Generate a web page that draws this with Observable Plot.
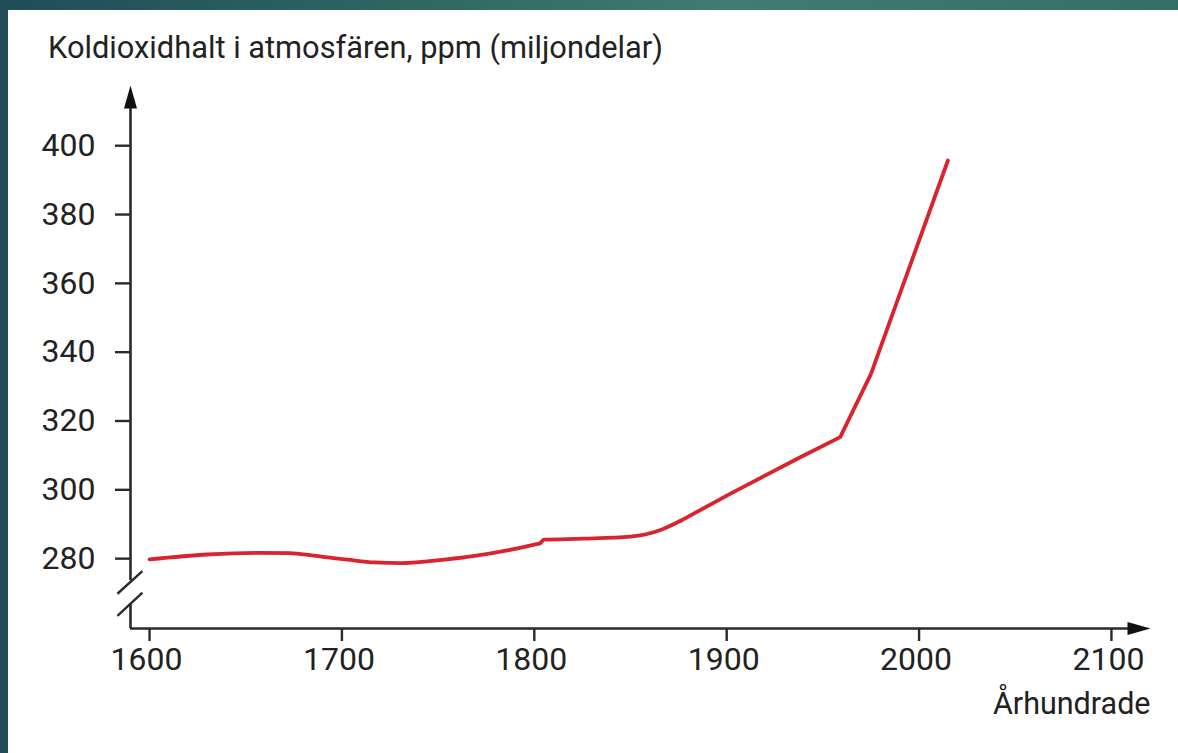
<!DOCTYPE html>
<html><head><meta charset="utf-8">
<script src="https://cdn.jsdelivr.net/npm/d3@7"></script>
<script src="https://cdn.jsdelivr.net/npm/@observablehq/plot@0.6"></script>
<style>
html,body{margin:0;padding:0;width:1178px;height:753px;overflow:hidden;}
body{position:relative;font-family:Roboto,sans-serif;background:linear-gradient(90deg,#1f4d58 0%,#2c6360 30%,#3e7d71 62%,#346f67 100%);}
#panel{position:absolute;left:8px;top:10px;right:0;bottom:0;background:#fff;}
#title{position:absolute;left:48px;top:33px;font-size:30.8px;line-height:30px;color:#222;white-space:nowrap;}
#chart{position:absolute;left:0;top:70px;}
</style></head>
<body>
<div id="panel"></div>
<div id="title">Koldioxidhalt i atmosfären, ppm (miljondelar)</div>
<div id="chart"></div>
<script>
const years = [1600,1630,1656,1673,1685,1703,1717,1731,1748,1768,1786,1800,1803,1805,1825,1850,1866,1876,1902,1938,1959,1975,2015];
const ppm = [279.8,281.2,281.7,281.6,280.9,279.7,278.9,278.7,279.4,280.7,282.4,284.1,284.5,285.5,285.8,286.4,288.4,291.0,298.9,309.4,315.3,333.7,395.7];
const xTicks = [1600,1700,1800,1900,2000,2100];
const yTicks = [280,300,320,340,360,380,400];
const xLabel = "Århundrade";

const xMin = 1590.1, xMax = 2120.3, yMin = 259.7, yMax = 417.5;
const data = years.map((y, i) => ({year: y, ppm: ppm[i]}));
const smoothPart = data.filter(d => d.year <= 1876);
const straightPart = data.filter(d => d.year >= 1876);

const arrowUp = {
  draw(ctx) {
    ctx.moveTo(0, 0);
    ctx.lineTo(-6.5, 23);
    ctx.lineTo(6.5, 23);
    ctx.closePath();
  }
};
const axisColor = "#2a2a2a";
const red = "#d9232e";

const chart = Plot.plot({
  width: 1178, height: 660,
  marginLeft: 130, marginRight: 28, marginTop: 15, marginBottom: 102,
  x: {domain: [xMin, xMax]},
  y: {domain: [yMin, yMax]},
  style: {fontFamily: "Roboto, sans-serif", fontSize: "32px", color: "#222", background: "transparent", overflow: "visible"},
  marks: [
    Plot.axisY({ticks: yTicks, tickSize: 15, tickPadding: 20, tickFormat: d => String(d), label: null, strokeWidth: 2.4, stroke: axisColor, fontSize: 32}),
    Plot.axisX({ticks: xTicks, tickSize: 13, tickFormat: () => "", label: null, strokeWidth: 2.4, stroke: axisColor}),
    Plot.axisX({ticks: xTicks, tickSize: 0, tickPadding: 19, tickFormat: d => String(d), label: null, fontSize: 32, dx: -3}),
    // y axis line with break
    Plot.ruleX([xMin], {y1: 273.6, y2: yMax - 5, stroke: axisColor, strokeWidth: 2.6}),
    Plot.ruleX([xMin], {y1: yMin, y2: 266.9, stroke: axisColor, strokeWidth: 2.6}),
    // break marks
    Plot.link([{a: 1583.3, b: 269.8, c: 1596.3, d: 276.4}, {a: 1583.3, b: 263.4, c: 1596.3, d: 270.1}],
      {x1: "a", y1: "b", x2: "c", y2: "d", stroke: axisColor, strokeWidth: 2.4}),
    // x axis line
    Plot.ruleY([yMin], {x1: xMin, x2: xMax - 5, stroke: axisColor, strokeWidth: 2.6}),
    // arrowheads
    Plot.dot([{x: xMin, y: yMax}], {x: "x", y: "y", symbol: arrowUp, r: 5, fill: "#111", stroke: null}),
    Plot.dot([{x: xMax, y: yMin}], {x: "x", y: "y", symbol: arrowUp, r: 5, fill: "#111", stroke: null, rotate: 90}),
    // data line
    Plot.line(smoothPart, {x: "year", y: "ppm", stroke: red, strokeWidth: 3.8, curve: "monotone-x", strokeLinejoin: "round"}),
    Plot.line(straightPart, {x: "year", y: "ppm", stroke: red, strokeWidth: 3.8, curve: "linear", strokeLinejoin: "round"}),
    // x label
    Plot.text([xLabel], {x: xMax, y: yMin, text: d => d, textAnchor: "end", dy: 85, fontSize: 30.5, fill: "#222", lineAnchor: "bottom"})
  ]
});
document.getElementById("chart").appendChild(chart);
</script>
</body></html>
